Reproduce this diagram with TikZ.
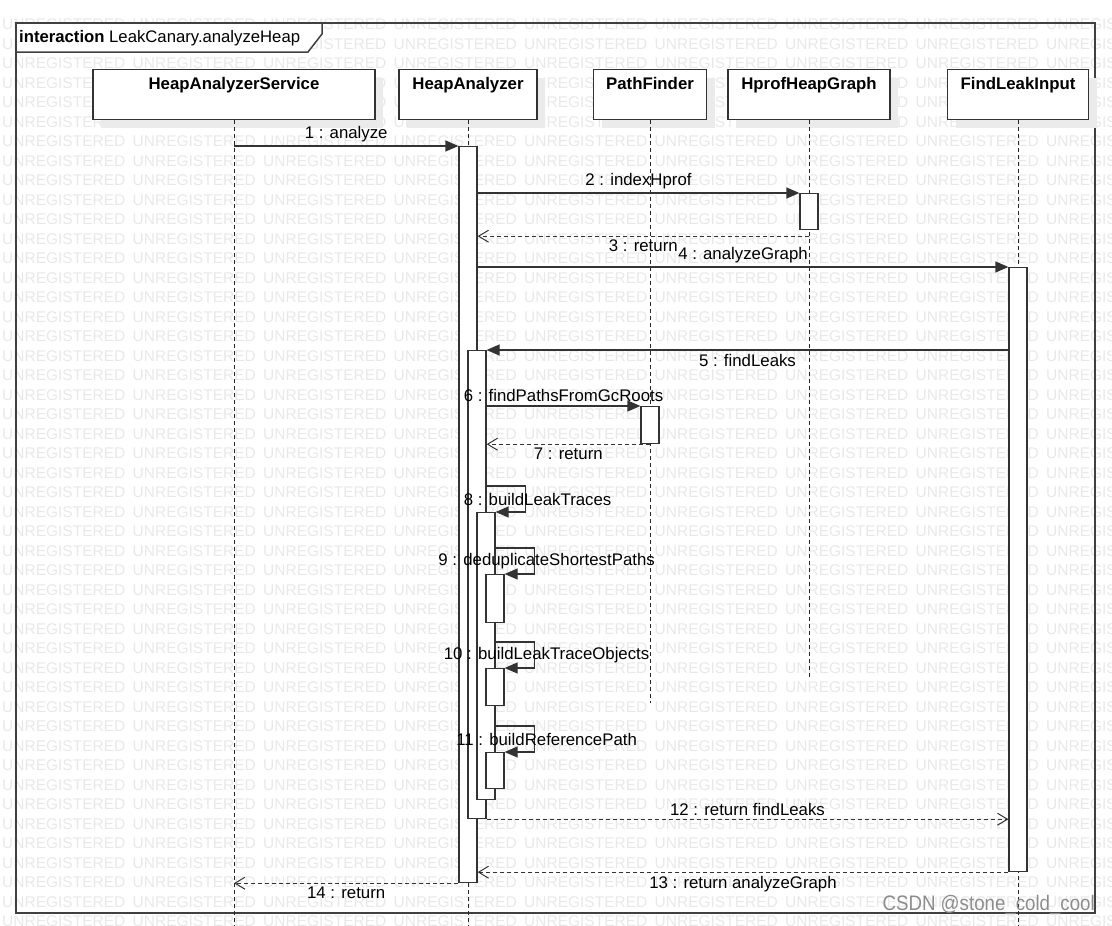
\documentclass[tikz,border=0pt]{standalone}
\usepackage{fontspec}
\setmainfont{Liberation Sans}
\usetikzlibrary{arrows.meta,calc,shadows}

\tikzset{
  frame/.style={draw=black!75,line width=2pt},
  head/.style={draw=black!80,line width=1.2pt,fill=white,anchor=north,minimum height=50pt,
    inner ysep=6pt,text height=14pt,text depth=24pt,font=\fontsize{16.8}{20}\selectfont\bfseries,
    drop shadow={shadow xshift=8pt,shadow yshift=-8pt,fill=black!8,opacity=1}},
  life/.style={draw=black!85,line width=1pt,dash pattern=on 4pt off 3pt},
  actbar/.style={draw=black!80,line width=1.2pt,fill=white,minimum width=18pt,inner sep=0pt,anchor=north},
  call/.style={draw=black!80,line width=1.2pt,-{Triangle[length=13pt,width=11pt]}},
  reply/.style={draw=black!80,line width=1pt,dash pattern=on 4pt off 3pt,-{Straight Barb[length=10pt,width=12pt,line width=1pt]}},
  msg/.style={font=\fontsize{16.8}{20}\selectfont,inner sep=3.5pt},
  wmark/.style={anchor=west,inner sep=0pt,text=black!9,font=\fontsize{15.5}{18}\selectfont}
}

\begin{document}
\begin{tikzpicture}[x=1pt,y=-1pt]
  \useasboundingbox (0,0) rectangle (1112,926);

  % watermark
  \foreach \r in {0,...,46}
    \foreach \c in {0,...,8}
      \node[wmark] at ({2+130.5*\c},{24.5+19.5*\r}) {UNREGISTERED};

  % frame and tab
  \draw[frame] (16,23) rectangle (1095,913);
  \draw[frame,line width=1.5pt,fill=white] (16,23) -- (322,23) -- (322,34) -- (308,52) -- (16,52) -- cycle;
  \node[anchor=base west,inner sep=0pt,font=\fontsize{16.7}{20}\selectfont] (title) at (19,42) {\textbf{interaction} LeakCanary.analyzeHeap};

  % lifelines
  \node[head,minimum width=282pt] (svc) at (234,69) {HeapAnalyzerService};
  \node[head,minimum width=138pt] (ha) at (468,69) {HeapAnalyzer};
  \node[head,minimum width=113pt] (pf) at (650,69) {PathFinder};
  \node[head,minimum width=162pt] (hg) at (809,69) {HprofHeapGraph};
  \node[head,minimum width=141pt] (fl) at (1018,69) {FindLeakInput};

  \coordinate (svc end) at (234,926);
  \coordinate (ha end) at (468,926);
  \coordinate (pf end) at (650,703);
  \coordinate (hg end) at (809,680);
  \coordinate (fl end) at (1018,926);
  \foreach \n in {svc,ha,pf,hg,fl}
    \draw[life] (\n.south) -- (\n\space end);

  % activations
  \node[actbar,minimum height=736pt] (haMain) at (468,146) {};
  \node[actbar,minimum height=36pt] (hgAct) at (809,193) {};
  \node[actbar,minimum height=604pt] (flAct) at (1018,267) {};
  \node[actbar,minimum height=468pt] (haLeaks) at (477,350) {};
  \node[actbar,minimum height=37pt] (pfAct) at (650,406) {};
  \node[actbar,minimum height=287pt] (haTraces) at (486,512) {};
  \node[actbar,minimum height=48pt] (haDedup) at (495,574) {};
  \node[actbar,minimum height=37pt] (haObjects) at (495,668) {};
  \node[actbar,minimum height=36pt] (haRefPath) at (495,752) {};

  % messages
  \draw[call] (svc.south |- haMain.north) -- (haMain.north west) node[msg,midway,above] {1 : analyze};
  \draw[call] (haMain.east |- hgAct.north) -- (hgAct.north west) node[msg,midway,above] {2 : indexHprof};
  \coordinate (hgRet) at ([yshift=-6pt]hgAct.south);
  \draw[reply] (hgRet) -- (haMain.east |- hgRet) node[msg,midway,below] {3 : return};
  \draw[call] (haMain.east |- flAct.north) -- (flAct.north west) node[msg,midway,above] {4 : analyzeGraph};
  \draw[call] (flAct.west |- haLeaks.north) -- (haLeaks.north east) node[msg,midway,below] {5 : findLeaks};
  \draw[call] (haLeaks.east |- pfAct.north) -- (pfAct.north west) node[msg,midway,above] {6 : findPathsFromGcRoots};
  \draw[reply] (pfAct.south) -- (haLeaks.east |- pfAct.south) node[msg,midway,below] {7 : return};

  \foreach \from/\to/\txt in {haLeaks/haTraces/{8 : buildLeakTraces},
                               haTraces/haDedup/{9 : deduplicateShortestPaths},
                               haTraces/haObjects/{10 : buildLeakTraceObjects},
                               haTraces/haRefPath/{11 : buildReferencePath}}
    \draw[call] ($(\to.north -| \from.east)+(0,-26)$) -- ++(39,0) -- ++(0,26)
      node[msg,midway,xshift=12pt] {\txt} -- (\to.north east);

  \draw[reply] (haLeaks.south east) -- (flAct.west |- haLeaks.south) node[msg,midway,above] {12 : return findLeaks};
  \draw[reply] (flAct.south west) -- (haMain.east |- flAct.south) node[msg,midway,below] {13 : return analyzeGraph};
  \draw[reply] (haMain.south west) -- (svc.south |- haMain.south) node[msg,midway,below] {14 : return};

  \node[anchor=east,inner sep=0pt,text=black!45,font=\fontsize{21}{24}\selectfont,xscale=0.89] (csdn) at (1095,905) {CSDN @stone\_cold\_cool};
\end{tikzpicture}
\end{document}
